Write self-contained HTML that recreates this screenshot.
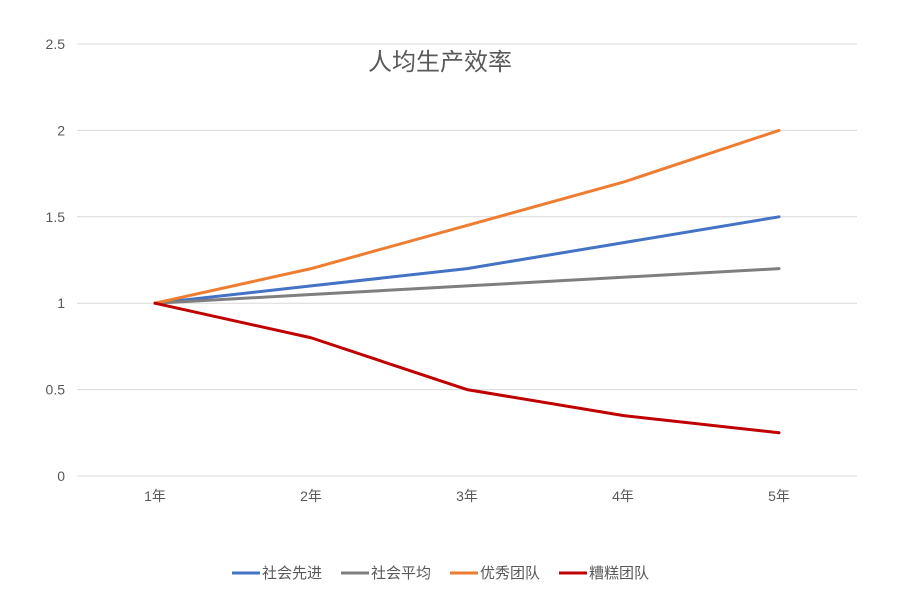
<!DOCTYPE html>
<html><head><meta charset="utf-8">
<style>
html,body{margin:0;padding:0;background:#fff;}
svg{display:block;font-family:"Liberation Sans","Noto Sans CJK SC",sans-serif;}
</style></head>
<body>
<svg id="chart" width="923" height="602">
<text x="440" y="70" text-anchor="middle" font-size="24" fill="#595959">人均生产效率</text>
<g id="grid"></g><g id="series"></g><g id="legend"></g>
</svg>
<script>
const categories=["1年","2年","3年","4年","5年"];
const yTicks=[0,0.5,1,1.5,2,2.5];
const yTickLabels=["0","0.5","1","1.5","2","2.5"];
const seriesNames=["社会先进","社会平均","优秀团队","糟糕团队"];
const seriesColors=["#4472C4","#7F7F7F","#ED7D31","#C00000"];
const advanced=[1,1.1,1.2,1.35,1.5];
const average=[1,1.05,1.1,1.15,1.2];
const excellent=[1,1.2,1.45,1.7,2];
const poor=[1,0.8,0.5,0.35,0.25];
const seriesData=[advanced,average,excellent,poor];

const NS="http://www.w3.org/2000/svg";
const x0=77,x1=857,yBase=476,yTop=44,yMax=2.5;
const step=(x1-x0)/categories.length;
function xs(i){return x0+step*(i+0.5);}
function ys(v){return yBase-(v/yMax)*(yBase-yTop);}
function mk(tag,attrs,parent){const e=document.createElementNS(NS,tag);for(const k in attrs)e.setAttribute(k,attrs[k]);parent.appendChild(e);return e;}
const grid=document.getElementById('grid');
yTicks.forEach((t,i)=>{
 const l=mk('line',{x1:x0,x2:x1,y1:ys(t),y2:ys(t),stroke:'#D9D9D9','stroke-width':1},grid);
 
 
 const tx=mk('text',{x:65,y:ys(t)+5,'text-anchor':'end','font-size':14,fill:'#595959'},grid);
 tx.textContent=yTickLabels[i];
 
 
});
categories.forEach((c,i)=>{
 const tx=mk('text',{x:xs(i),y:501,'text-anchor':'middle','font-size':14,fill:'#595959'},grid);
 tx.textContent=c;
 
 
});
const sg=document.getElementById('series');
seriesData.forEach((d,s)=>{
 const pts=d.map((v,i)=>xs(i)+','+ys(v)).join(' ');
 const p=mk('polyline',{points:pts,fill:'none',stroke:seriesColors[s],'stroke-width':3,'stroke-linejoin':'round','stroke-linecap':'round'},sg);
 
 
});
const lg=document.getElementById('legend');
const lx=[232,341,450,559];
seriesNames.forEach((n,s)=>{
 const g=mk('g',{},lg);
 
 
 mk('line',{x1:lx[s],x2:lx[s]+28,y1:573,y2:573,stroke:seriesColors[s],'stroke-width':3},g);
 const t=mk('text',{x:lx[s]+30,y:578,'font-size':15,fill:'#595959'},g);
 t.textContent=n;
});
</script>
</body></html>
